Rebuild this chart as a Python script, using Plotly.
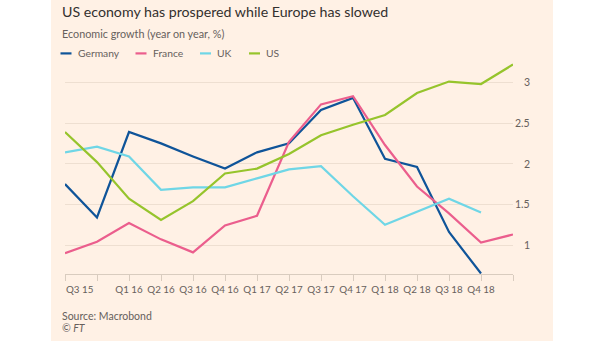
import plotly.graph_objects as go

quarters = ["Q3 15", "Q4 15", "Q1 16", "Q2 16", "Q3 16", "Q4 16", "Q1 17", "Q2 17",
            "Q3 17", "Q4 17", "Q1 18", "Q2 18", "Q3 18", "Q4 18", "Q1 19"]
tick_labels = ["", "", "Q1 16", "Q2 16", "Q3 16", "Q4 16", "Q1 17", "Q2 17",
               "Q3 17", "Q4 17", "Q1 18", "Q2 18", "Q3 18", "Q4 18", ""]
first_label = "Q3 15"

germany = [1.75, 1.34, 2.39, 2.25, 2.09, 1.94, 2.14, 2.25, 2.66, 2.81, 2.06, 1.96, 1.16, 0.65]
france = [0.90, 1.04, 1.27, 1.07, 0.91, 1.24, 1.36, 2.27, 2.73, 2.83, 2.23, 1.72, 1.39, 1.03, 1.13]
uk = [2.14, 2.21, 2.09, 1.68, 1.71, 1.71, 1.82, 1.93, 1.97, 1.60, 1.25, 1.41, 1.57, 1.40]
us = [2.39, 2.02, 1.57, 1.31, 1.54, 1.88, 1.94, 2.12, 2.35, 2.48, 2.60, 2.87, 3.01, 2.98, 3.22]

series_names = ["Germany", "France", "UK", "US"]
series_values = [germany, france, uk, us]
series_colors = ["#0F5499", "#EB5E8D", "#6FD6E6", "#96C42C"]

y_ticks = [1, 1.5, 2, 2.5, 3]
y_tick_text = ["1", "1.5", "2", "2.5", "3"]

title = "US economy has prospered while Europe has slowed"
subtitle = "Economic growth (year on year, %)"
source = "Source: Macrobond"
credit = "© FT"

# ---- layout geometry (pixels) ----
W, H = 605, 341
PL, PR, PT, PB = 65, 513, 57.6, 274
YMIN, YMAX = 0.644, 3.3

def xp(px):
    return (px - PL) / (PR - PL)

def yp(py):
    return (PB - py) / (PB - PT)

FONT = "Lato"
GRAY = "#66605C"
TICK_SIZE = 9.8

fig = go.Figure()
for name, vals, col in zip(series_names, series_values, series_colors):
    fig.add_trace(go.Scatter(
        x=list(range(len(vals))), y=vals, mode="lines", name=name,
        line=dict(color=col, width=2.2), showlegend=False, hoverinfo="skip"))

shapes = [dict(type="rect", xref="paper", yref="paper",
               x0=xp(51), x1=xp(553), y0=yp(H + 2), y1=yp(-2),
               fillcolor="#FFF1E5", line=dict(width=0), layer="below")]

annotations = [
    dict(text=title, x=xp(59.5), y=yp(11.5), xref="paper", yref="paper",
         xanchor="left", yanchor="middle", showarrow=False,
         font=dict(family=FONT, size=14.2, color="#33302E")),
    dict(text=subtitle, x=xp(59.5), y=yp(33), xref="paper", yref="paper",
         xanchor="left", yanchor="middle", showarrow=False,
         font=dict(family=FONT, size=10.8, color=GRAY)),
    dict(text=source, x=xp(59.5), y=yp(316), xref="paper", yref="paper",
         xanchor="left", yanchor="middle", showarrow=False,
         font=dict(family=FONT, size=10.5, color=GRAY)),
    dict(text="<i>" + credit + "</i>", x=xp(59.5), y=yp(328), xref="paper", yref="paper",
         xanchor="left", yanchor="middle", showarrow=False,
         font=dict(family=FONT, size=10.5, color=GRAY)),
    dict(text=first_label, x=0, y=yp(289), xref="x", yref="paper",
         xanchor="left", yanchor="middle", showarrow=False, xshift=-1,
         font=dict(family=FONT, size=TICK_SIZE, color=GRAY)),
]

for v, t in zip(y_ticks, y_tick_text):
    annotations.append(dict(text=t, x=xp(532), y=v, xref="paper", yref="y",
                            xanchor="right", yanchor="middle", showarrow=False,
                            font=dict(family=FONT, size=10.5, color=GRAY)))

# manual legend
legend_line_x = [60.5, 135.5, 200, 249]
for name, col, lx in zip(series_names, series_colors, legend_line_x):
    shapes.append(dict(type="line", xref="paper", yref="paper",
                       x0=xp(lx), x1=xp(lx + 11), y0=yp(53), y1=yp(53),
                       line=dict(color=col, width=2.2)))
    annotations.append(dict(text=name, x=xp(lx + 15), y=yp(53), xref="paper", yref="paper",
                            xanchor="left", yanchor="middle", showarrow=False,
                            font=dict(family=FONT, size=10.3, color=GRAY)))

fig.update_layout(
    width=W, height=H,
    margin=dict(l=PL, r=W - PR, t=PT, b=H - PB, pad=0),
    paper_bgcolor="white", plot_bgcolor="rgba(0,0,0,0)",
    shapes=shapes, annotations=annotations,
    xaxis=dict(range=[0, len(quarters) - 1], tickmode="array",
               tickvals=list(range(len(quarters))), ticktext=tick_labels,
               tickangle=0,
               showgrid=False, zeroline=False, showline=True, linecolor="#D9CCBF",
               linewidth=1, ticks="outside", ticklen=6, tickcolor="#D9CCBF",
               tickfont=dict(family=FONT, size=TICK_SIZE, color=GRAY), fixedrange=True),
    yaxis=dict(range=[YMIN, YMAX], tickvals=y_ticks, showticklabels=False,
               showgrid=True, gridcolor="#EEDFD1", gridwidth=1, zeroline=False,
               showline=False, fixedrange=True),
    showlegend=False,
)

fig.write_html("out.html")
